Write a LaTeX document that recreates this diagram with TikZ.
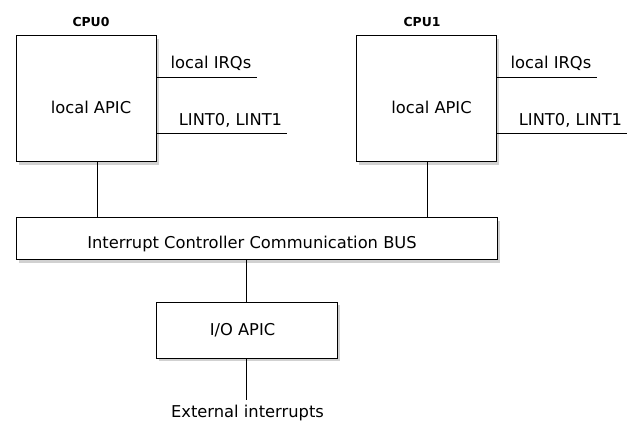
\documentclass[tikz,border=0pt]{standalone}
\usepackage{fontspec}
\setmainfont{DejaVu Sans}
\usetikzlibrary{shadows}
\tikzset{
  box/.style={draw=black, line width=1pt, fill=white, rectangle, inner sep=0pt,
    drop shadow={shadow xshift=3pt, shadow yshift=-3pt, fill=black!30, opacity=0.6}},
  lbl/.style={inner sep=0pt, font=\fontsize{16.3}{19}\selectfont},
  cpulbl/.style={inner sep=0pt, font=\bfseries\fontsize{12.4}{14}\selectfont},
  wire/.style={line width=1pt, draw=black}
}
\begin{document}
\begin{tikzpicture}[x=1pt,y=-1pt]
\useasboundingbox (0,0) rectangle (639,427);
% boxes
\node[box, minimum width=140pt, minimum height=126pt] (cpu0) at (86,99) {};
\node[box, minimum width=140pt, minimum height=126pt] (cpu1) at (426,99) {};
\node[box, minimum width=481pt, minimum height=42pt] (bus) at (256.5,239) {};
\node[box, minimum width=181pt, minimum height=56pt] (io) at (246.5,330) {};
% box texts
\node[lbl] (t0) at (91,107) {local APIC};
\node[lbl] (t1) at (431.5,107) {local APIC};
\node[lbl] (tbus) at (252,244) {Interrupt Controller Communication BUS};
\node[lbl] (tio) at (242.5,330) {I/O APIC};
% cpu labels
\node[cpulbl] (c0) at (91,22) {CPU0};
\node[cpulbl] (c1) at (422,22) {CPU1};
% side lines
\coordinate (irq0) at (257,78);
\coordinate (lint0) at (287,134);
\coordinate (irq1) at (597,78);
\coordinate (lint1) at (627,134);
\draw[wire] (cpu0.east |- irq0) -- (irq0);
\draw[wire] (cpu0.east |- lint0) -- (lint0);
\draw[wire] (cpu1.east |- irq1) -- (irq1);
\draw[wire] (cpu1.east |- lint1) -- (lint1);
\node[lbl] (li0) at (211,63) {local IRQs};
\node[lbl] (ll0) at (230.5,120) {LINT0, LINT1};
\node[lbl] (li1) at (551,63) {local IRQs};
\node[lbl] (ll1) at (570.5,120) {LINT0, LINT1};
% vertical connectors
\draw[wire] ([xshift=11pt]cpu0.south) -- ([xshift=11pt]cpu0.south |- bus.north);
\draw[wire] ([xshift=1pt]cpu1.south) -- ([xshift=1pt]cpu1.south |- bus.north);
\draw[wire] (io.north |- bus.south) -- (io.north);
\coordinate (extend) at (246.5,400);
\draw[wire] (io.south) -- (extend);
\node[lbl] (ext) at (247.5,413) {External interrupts};
\end{tikzpicture}
\end{document}
